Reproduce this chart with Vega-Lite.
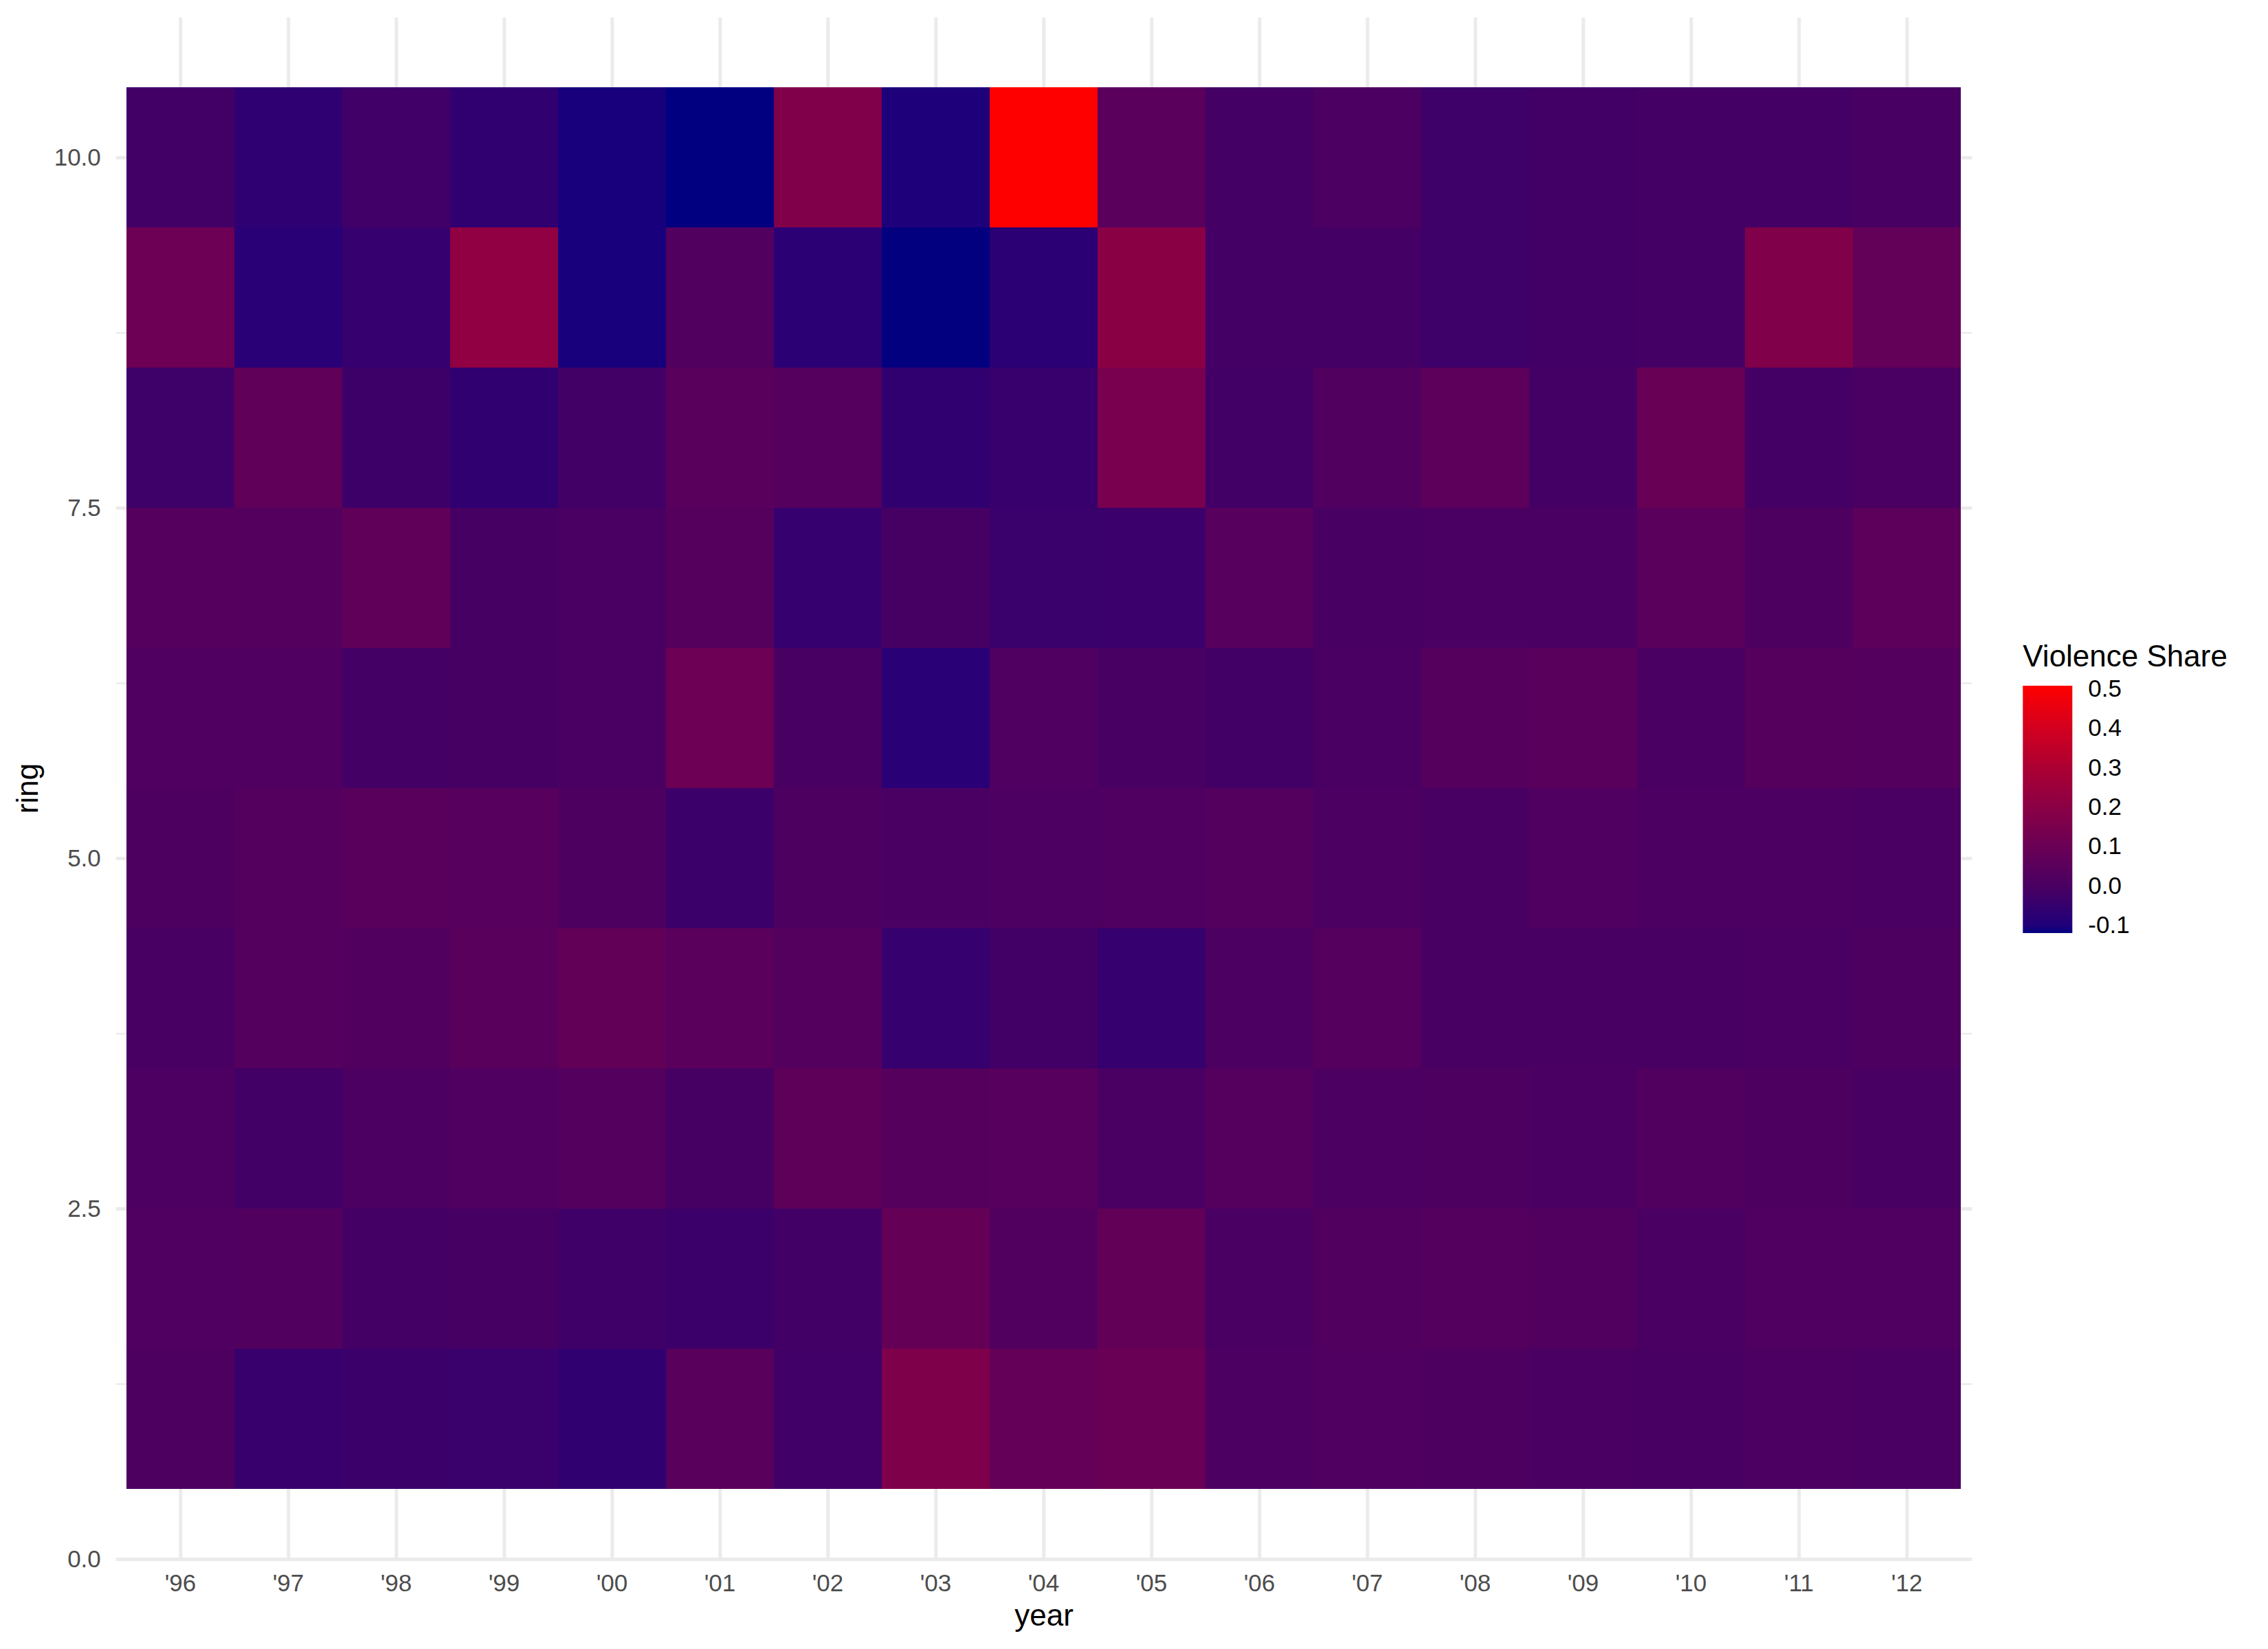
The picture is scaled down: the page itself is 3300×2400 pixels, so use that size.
{
  "$schema": "https://vega.github.io/schema/vega-lite/v6.json",
  "autosize": {"type": "none"},
  "width": 2700.4,
  "height": 2244,
  "padding": {"left": 168.3, "top": 25, "right": 431.3, "bottom": 131},
  "background": "white",
  "config": {
    "view": {"stroke": null},
    "font": "Liberation Sans",
    "axis": {"labelFont": "Liberation Sans", "titleFont": "Liberation Sans", "titleFontWeight": "normal"},
    "legend": {"labelFont": "Liberation Sans", "titleFont": "Liberation Sans"}
  },
  "data": {
    "values": [
      {"year": "'96", "ring": 10, "share": -0.019}, {"year": "'97", "ring": 10, "share": -0.064}, {"year": "'98", "ring": 10, "share": -0.024}, {"year": "'99", "ring": 10, "share": -0.060}, {"year": "'00", "ring": 10, "share": -0.105}, {"year": "'01", "ring": 10, "share": -0.119}, {"year": "'02", "ring": 10, "share": 0.169}, {"year": "'03", "ring": 10, "share": -0.101}, {"year": "'04", "ring": 10, "share": 0.509}, {"year": "'05", "ring": 10, "share": 0.050}, {"year": "'06", "ring": 10, "share": -0.014}, {"year": "'07", "ring": 10, "share": 0.006}, {"year": "'08", "ring": 10, "share": -0.029}, {"year": "'09", "ring": 10, "share": -0.019}, {"year": "'10", "ring": 10, "share": -0.014}, {"year": "'11", "ring": 10, "share": -0.014}, {"year": "'12", "ring": 10, "share": -0.005},
      {"year": "'96", "ring": 9, "share": 0.109}, {"year": "'97", "ring": 9, "share": -0.079}, {"year": "'98", "ring": 9, "share": -0.048}, {"year": "'99", "ring": 9, "share": 0.218}, {"year": "'00", "ring": 9, "share": -0.105}, {"year": "'01", "ring": 9, "share": 0.025}, {"year": "'02", "ring": 9, "share": -0.074}, {"year": "'03", "ring": 9, "share": -0.117}, {"year": "'04", "ring": 9, "share": -0.076}, {"year": "'05", "ring": 9, "share": 0.200}, {"year": "'06", "ring": 9, "share": -0.014}, {"year": "'07", "ring": 9, "share": -0.014}, {"year": "'08", "ring": 9, "share": -0.029}, {"year": "'09", "ring": 9, "share": -0.019}, {"year": "'10", "ring": 9, "share": -0.014}, {"year": "'11", "ring": 9, "share": 0.169}, {"year": "'12", "ring": 9, "share": 0.078},
      {"year": "'96", "ring": 8, "share": -0.029}, {"year": "'97", "ring": 8, "share": 0.072}, {"year": "'98", "ring": 8, "share": -0.031}, {"year": "'99", "ring": 8, "share": -0.062}, {"year": "'00", "ring": 8, "share": -0.019}, {"year": "'01", "ring": 8, "share": 0.044}, {"year": "'02", "ring": 8, "share": 0.034}, {"year": "'03", "ring": 8, "share": -0.060}, {"year": "'04", "ring": 8, "share": -0.043}, {"year": "'05", "ring": 8, "share": 0.144}, {"year": "'06", "ring": 8, "share": -0.019}, {"year": "'07", "ring": 8, "share": 0.025}, {"year": "'08", "ring": 8, "share": 0.056}, {"year": "'09", "ring": 8, "share": -0.014}, {"year": "'10", "ring": 8, "share": 0.094}, {"year": "'11", "ring": 8, "share": -0.014}, {"year": "'12", "ring": 8, "share": 0.000},
      {"year": "'96", "ring": 7, "share": 0.034}, {"year": "'97", "ring": 7, "share": 0.031}, {"year": "'98", "ring": 7, "share": 0.069}, {"year": "'99", "ring": 7, "share": -0.010}, {"year": "'00", "ring": 7, "share": 0.000}, {"year": "'01", "ring": 7, "share": 0.038}, {"year": "'02", "ring": 7, "share": -0.048}, {"year": "'03", "ring": 7, "share": -0.010}, {"year": "'04", "ring": 7, "share": -0.038}, {"year": "'05", "ring": 7, "share": -0.036}, {"year": "'06", "ring": 7, "share": 0.041}, {"year": "'07", "ring": 7, "share": -0.005}, {"year": "'08", "ring": 7, "share": 0.000}, {"year": "'09", "ring": 7, "share": 0.000}, {"year": "'10", "ring": 7, "share": 0.050}, {"year": "'11", "ring": 7, "share": 0.013}, {"year": "'12", "ring": 7, "share": 0.056},
      {"year": "'96", "ring": 6, "share": 0.019}, {"year": "'97", "ring": 6, "share": 0.019}, {"year": "'98", "ring": 6, "share": -0.014}, {"year": "'99", "ring": 6, "share": -0.010}, {"year": "'00", "ring": 6, "share": 0.000}, {"year": "'01", "ring": 6, "share": 0.109}, {"year": "'02", "ring": 6, "share": -0.005}, {"year": "'03", "ring": 6, "share": -0.079}, {"year": "'04", "ring": 6, "share": 0.019}, {"year": "'05", "ring": 6, "share": -0.005}, {"year": "'06", "ring": 6, "share": -0.019}, {"year": "'07", "ring": 6, "share": 0.000}, {"year": "'08", "ring": 6, "share": 0.038}, {"year": "'09", "ring": 6, "share": 0.044}, {"year": "'10", "ring": 6, "share": 0.000}, {"year": "'11", "ring": 6, "share": 0.038}, {"year": "'12", "ring": 6, "share": 0.031},
      {"year": "'96", "ring": 5, "share": 0.013}, {"year": "'97", "ring": 5, "share": 0.031}, {"year": "'98", "ring": 5, "share": 0.044}, {"year": "'99", "ring": 5, "share": 0.041}, {"year": "'00", "ring": 5, "share": 0.013}, {"year": "'01", "ring": 5, "share": -0.033}, {"year": "'02", "ring": 5, "share": 0.013}, {"year": "'03", "ring": 5, "share": 0.000}, {"year": "'04", "ring": 5, "share": 0.009}, {"year": "'05", "ring": 5, "share": 0.019}, {"year": "'06", "ring": 5, "share": 0.028}, {"year": "'07", "ring": 5, "share": 0.006}, {"year": "'08", "ring": 5, "share": -0.005}, {"year": "'09", "ring": 5, "share": 0.019}, {"year": "'10", "ring": 5, "share": 0.006}, {"year": "'11", "ring": 5, "share": 0.006}, {"year": "'12", "ring": 5, "share": 0.000},
      {"year": "'96", "ring": 4, "share": -0.005}, {"year": "'97", "ring": 4, "share": 0.031}, {"year": "'98", "ring": 4, "share": 0.025}, {"year": "'99", "ring": 4, "share": 0.044}, {"year": "'00", "ring": 4, "share": 0.075}, {"year": "'01", "ring": 4, "share": 0.050}, {"year": "'02", "ring": 4, "share": 0.031}, {"year": "'03", "ring": 4, "share": -0.048}, {"year": "'04", "ring": 4, "share": -0.019}, {"year": "'05", "ring": 4, "share": -0.048}, {"year": "'06", "ring": 4, "share": 0.006}, {"year": "'07", "ring": 4, "share": 0.034}, {"year": "'08", "ring": 4, "share": -0.005}, {"year": "'09", "ring": 4, "share": -0.005}, {"year": "'10", "ring": 4, "share": -0.005}, {"year": "'11", "ring": 4, "share": 0.000}, {"year": "'12", "ring": 4, "share": 0.013},
      {"year": "'96", "ring": 3, "share": 0.009}, {"year": "'97", "ring": 3, "share": -0.019}, {"year": "'98", "ring": 3, "share": 0.006}, {"year": "'99", "ring": 3, "share": 0.019}, {"year": "'00", "ring": 3, "share": 0.028}, {"year": "'01", "ring": 3, "share": -0.010}, {"year": "'02", "ring": 3, "share": 0.063}, {"year": "'03", "ring": 3, "share": 0.038}, {"year": "'04", "ring": 3, "share": 0.041}, {"year": "'05", "ring": 3, "share": 0.000}, {"year": "'06", "ring": 3, "share": 0.034}, {"year": "'07", "ring": 3, "share": 0.006}, {"year": "'08", "ring": 3, "share": 0.013}, {"year": "'09", "ring": 3, "share": 0.000}, {"year": "'10", "ring": 3, "share": 0.025}, {"year": "'11", "ring": 3, "share": 0.013}, {"year": "'12", "ring": 3, "share": -0.005},
      {"year": "'96", "ring": 2, "share": 0.019}, {"year": "'97", "ring": 2, "share": 0.025}, {"year": "'98", "ring": 2, "share": -0.014}, {"year": "'99", "ring": 2, "share": -0.010}, {"year": "'00", "ring": 2, "share": -0.026}, {"year": "'01", "ring": 2, "share": -0.033}, {"year": "'02", "ring": 2, "share": -0.019}, {"year": "'03", "ring": 2, "share": 0.084}, {"year": "'04", "ring": 2, "share": 0.025}, {"year": "'05", "ring": 2, "share": 0.075}, {"year": "'06", "ring": 2, "share": 0.000}, {"year": "'07", "ring": 2, "share": 0.025}, {"year": "'08", "ring": 2, "share": 0.031}, {"year": "'09", "ring": 2, "share": 0.025}, {"year": "'10", "ring": 2, "share": 0.000}, {"year": "'11", "ring": 2, "share": 0.019}, {"year": "'12", "ring": 2, "share": 0.019},
      {"year": "'96", "ring": 1, "share": 0.013}, {"year": "'97", "ring": 1, "share": -0.043}, {"year": "'98", "ring": 1, "share": -0.033}, {"year": "'99", "ring": 1, "share": -0.038}, {"year": "'00", "ring": 1, "share": -0.060}, {"year": "'01", "ring": 1, "share": 0.044}, {"year": "'02", "ring": 1, "share": -0.021}, {"year": "'03", "ring": 1, "share": 0.163}, {"year": "'04", "ring": 1, "share": 0.081}, {"year": "'05", "ring": 1, "share": 0.097}, {"year": "'06", "ring": 1, "share": 0.006}, {"year": "'07", "ring": 1, "share": 0.016}, {"year": "'08", "ring": 1, "share": 0.013}, {"year": "'09", "ring": 1, "share": 0.000}, {"year": "'10", "ring": 1, "share": -0.005}, {"year": "'11", "ring": 1, "share": 0.006}, {"year": "'12", "ring": 1, "share": 0.000}
    ]
  },
  "layer": [
    {
      "mark": {"type": "rect", "strokeWidth": 0},
      "encoding": {
        "x": {
          "field": "year", "type": "ordinal",
          "sort": ["'96","'97","'98","'99","'00","'01","'02","'03","'04","'05","'06","'07","'08","'09","'10","'11","'12"],
          "scale": {"paddingInner": 0, "paddingOuter": 0.1},
          "axis": {
            "title": "year", "titleFontSize": 44, "titleColor": "#000000", "titlePadding": 8,
            "labelFontSize": 35, "labelColor": "#4D4D4D", "labelPadding": 18, "labelAngle": 0,
            "domain": false, "ticks": false, "zindex": 0,
            "grid": true, "gridColor": "#EBEBEB", "gridWidth": 5, "bandPosition": 0.5
          }
        },
        "y": {
          "field": "ring", "type": "ordinal", "sort": "descending",
          "scale": {"paddingInner": 0, "paddingOuter": 0.5},
          "axis": null
        },
        "color": {
          "field": "share", "type": "quantitative",
          "scale": {
            "domain": [-0.119, -0.1, 0, 0.1, 0.2, 0.3, 0.4, 0.509],
            "range": ["#000080", "#20007A", "#4A0062", "#6A0055", "#8A0045", "#AB0033", "#D2001F", "#FF0000"],
            "interpolate": "rgb"
          },
          "legend": {
            "title": "Violence Share", "titleFontSize": 44, "titleFontWeight": "normal", "titleColor": "#000000", "titlePadding": 19, "titleLimit": 800,
            "labelFontSize": 35, "labelColor": "#000000", "labelOffset": 23,
            "gradientLength": 360, "gradientThickness": 72, "gradientStrokeWidth": 0,
            "values": [-0.1, 0, 0.1, 0.2, 0.3, 0.4, 0.5],
            "labelExpr": "datum.value < 0 ? '-' + format(-datum.value, '.1f') : format(datum.value, '.1f')",
            "orient": "none", "legendX": 2775, "legendY": 910, "direction": "vertical"
          }
        }
      }
    },
    {
      "mark": {"type": "point", "opacity": 0},
      "encoding": {
        "y": {
          "field": "ring", "type": "quantitative",
          "scale": {"domain": [0, 11], "nice": false, "zero": false},
          "axis": {
            "title": "ring", "titleFontSize": 44, "titleColor": "#000000", "titlePadding": 15,
            "values": [0, 2.5, 5, 7.5, 10], "format": ".1f",
            "labelFontSize": 35, "labelColor": "#4D4D4D", "labelPadding": 22,
            "domain": false, "ticks": false, "zindex": 0,
            "grid": true, "gridColor": "#EBEBEB", "gridWidth": 5
          }
        }
      }
    },
    {
      "mark": {"type": "point", "opacity": 0},
      "encoding": {
        "y": {
          "field": "ring", "type": "quantitative",
          "scale": {"domain": [0, 11], "nice": false, "zero": false},
          "axis": {
            "orient": "right", "title": null, "labels": false,
            "values": [1.25, 3.75, 6.25, 8.75],
            "domain": false, "ticks": false, "zindex": 0,
            "grid": true, "gridColor": "#EBEBEB", "gridWidth": 2.5
          }
        }
      }
    }
  ],
  "resolve": {"scale": {"y": "independent"}, "axis": {"y": "independent"}}
}
